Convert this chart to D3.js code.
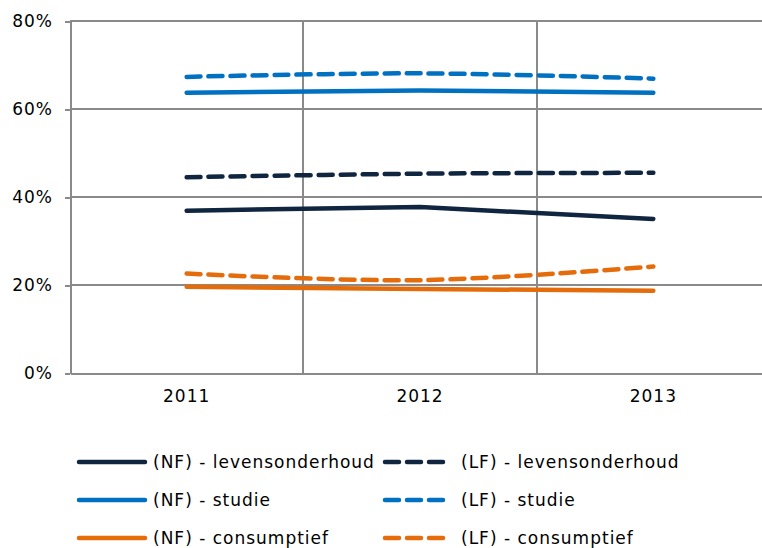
<!DOCTYPE html>
<meta charset="utf-8">
<style>
body { margin: 0; background: #fff; }
text { font-family: "DejaVu Sans", Verdana, sans-serif; font-size: 17px; letter-spacing: 1px; fill: #000; }
.grid line, .axis line, .axis path { stroke: #8a8a8a; stroke-width: 2; shape-rendering: crispEdges; }
</style>
<body>
<script src="https://cdn.jsdelivr.net/npm/d3@7"></script>
<script>

var years = ["2011", "2012", "2013"];
var yTicks = [0, 0.2, 0.4, 0.6, 0.8];

var nfLevensonderhoud = [0.369, 0.377, 0.350];
var nfStudie = [0.637, 0.642, 0.637];
var nfConsumptief = [0.196, 0.191, 0.187];
var lfLevensonderhoud = [0.445, 0.453, 0.455];
var lfStudie = [0.673, 0.681, 0.669];
var lfConsumptief = [0.226, 0.211, 0.242];

var navy = "#10253f", blue = "#0070c0", orange = "#e46c0a";

var series = [
  {name: "(NF) - levensonderhoud", values: nfLevensonderhoud, color: navy, dashed: false},
  {name: "(NF) - studie", values: nfStudie, color: blue, dashed: false},
  {name: "(NF) - consumptief", values: nfConsumptief, color: orange, dashed: false},
  {name: "(LF) - levensonderhoud", values: lfLevensonderhoud, color: navy, dashed: true},
  {name: "(LF) - studie", values: lfStudie, color: blue, dashed: true},
  {name: "(LF) - consumptief", values: lfConsumptief, color: orange, dashed: true}
];

var width = 762, height = 548;
var plot = {left: 70, right: 770, top: 21, bottom: 373};

var svg = d3.select("body").append("svg")
    .attr("width", width)
    .attr("height", height);

var x = d3.scaleBand()
    .domain(years)
    .range([plot.left, plot.right])
    .padding(0);

var y = d3.scaleLinear()
    .domain([0, 0.8])
    .range([plot.bottom, plot.top]);

// gridlines
var grid = svg.append("g").attr("class", "grid");
grid.selectAll(".h")
    .data(yTicks.slice(1))
  .enter().append("line")
    .attr("x1", plot.left).attr("x2", plot.right)
    .attr("y1", function(d) { return y(d); })
    .attr("y2", function(d) { return y(d); });

grid.selectAll(".v")
    .data(years.slice(1))
  .enter().append("line")
    .attr("x1", function(d) { return x(d); })
    .attr("x2", function(d) { return x(d); })
    .attr("y1", plot.top).attr("y2", plot.bottom);

// axes
var yAxis = d3.axisLeft(y)
    .tickValues(yTicks)
    .tickFormat(d3.format(".0%"))
    .tickSize(5)
    .tickSizeOuter(0)
    .tickPadding(12);

svg.append("g")
    .attr("class", "axis")
    .attr("transform", "translate(" + plot.left + ",0)")
    .call(yAxis)
    .selectAll("text").style("font-size", "17px").style("font-family", null);

var xAxis = d3.axisBottom(x)
    .tickSize(0)
    .tickSizeOuter(0)
    .tickPadding(17);

svg.append("g")
    .attr("class", "axis")
    .attr("transform", "translate(0," + plot.bottom + ")")
    .call(xAxis)
    .selectAll("text").style("font-size", "17px").style("font-family", null);

svg.selectAll(".axis text").attr("fill", "#000");

// lines
var solidLine = d3.line()
    .x(function(d, i) { return x(years[i]) + x.bandwidth() / 2; })
    .y(function(d) { return y(d); });

var smoothLine = d3.line()
    .curve(d3.curveCatmullRom)
    .x(function(d, i) { return x(years[i]) + x.bandwidth() / 2; })
    .y(function(d) { return y(d); });

svg.selectAll(".series")
    .data(series)
  .enter().append("path")
    .attr("class", "series")
    .attr("fill", "none")
    .attr("stroke", function(d) { return d.color; })
    .attr("stroke-width", 4.5)
    .attr("stroke-linecap", "round")
    .attr("stroke-linejoin", "round")
    .attr("stroke-dasharray", function(d) { return d.dashed ? "14,8" : null; })
    .attr("d", function(d) { return d.dashed ? smoothLine(d.values) : solidLine(d.values); });

// legend
var legend = svg.selectAll(".legend")
    .data(series)
  .enter().append("g")
    .attr("class", "legend")
    .attr("transform", function(d, i) {
      var col = Math.floor(i / 3), row = i % 3;
      return "translate(" + (col === 0 ? 79 : 385) + "," + (462 + row * 38) + ")";
    });

legend.append("line")
    .attr("x1", 0)
    .attr("x2", function(d) { return d.dashed ? 60 : 66; })
    .attr("stroke", function(d) { return d.color; })
    .attr("stroke-width", 4.5)
    .attr("stroke-linecap", "round")
    .attr("stroke-dasharray", function(d) { return d.dashed ? "14,8" : null; });

legend.append("text")
    .attr("x", function(d) { return d.dashed ? 76 : 74; })
    .attr("dy", "0.35em")
    .text(function(d) { return d.name; });

</script>
</body>
</html>
